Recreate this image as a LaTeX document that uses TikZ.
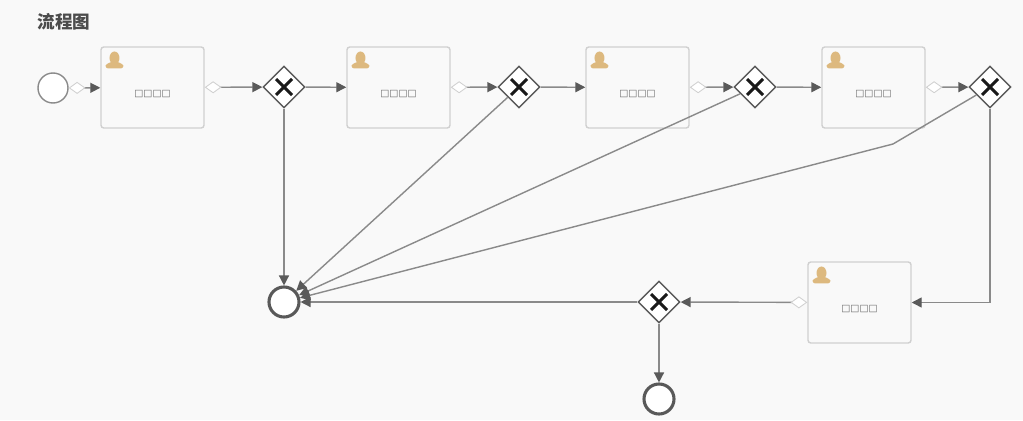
\documentclass[tikz,border=0pt]{standalone}
\usepackage{fontspec}
\newfontfamily\cjk{Noto Sans CJK SC}
\newfontfamily\boxfont{DejaVu Sans}
\usepackage{xcolor}
\usetikzlibrary{arrows.meta, shapes.geometric}

\definecolor{pagebg}{HTML}{F9F9F9}
\definecolor{flowline}{HTML}{8A8A8A}
\definecolor{flowtip}{HTML}{5A5A5A}
\definecolor{taskline}{HTML}{D0D0D0}
\definecolor{usertan}{HTML}{DDB97F}
\newcommand{\tasktext}{\smash{\raisebox{-6.5pt}{□□□□}}}

\begin{document}
\begin{tikzpicture}[
  x=0.025cm, y=-0.025cm,
  task/.style={draw=taskline, line width=1pt, fill=pagebg, rounded corners=2pt, minimum width=2.575cm, minimum height=2.025cm, inner sep=0pt, font=\boxfont\fontsize{6.8}{8}\selectfont, text=black!60,
    path picture={
      \fill[usertan] ([shift={(13.5,11)}]path picture bounding box.north west) ellipse [x radius=5, y radius=6.5];
      \fill[usertan] ([shift={(4.5,21.5)}]path picture bounding box.north west) .. controls +(0,-4) and +(-4,2) .. ++(6.5,-7) -- ++(5,0) .. controls +(4,2) and +(0,-4) .. ++(6.5,7) -- cycle;
    }},
  gateway/.style={draw=black!65, line width=1pt, fill=white, shape=diamond, aspect=1, inner sep=0pt, minimum width=1.05cm, minimum height=1.05cm,
    path picture={
      \draw[black!90, line width=2.2pt] ([shift={(-8,-8)}]path picture bounding box.center) -- ([shift={(8,8)}]path picture bounding box.center);
      \draw[black!90, line width=2.2pt] ([shift={(-8,8)}]path picture bounding box.center) -- ([shift={(8,-8)}]path picture bounding box.center);
    }},
  startev/.style={circle, draw=flowline, line width=1pt, fill=white, inner sep=0pt, minimum size=0.75cm},
  endev/.style={circle, draw=black!65, line width=2.2pt, fill=white, inner sep=0pt, minimum size=0.75cm},
  flow/.style={-{Triangle[length=2.5mm, width=2.5mm, color=flowtip]}, line width=1pt, color=flowline},
  mainflow/.style={{Diamond[length=4.2mm, width=3mm, fill=white, color=taskline, line width=0.6pt]}-{Triangle[length=2.5mm, width=2.5mm, color=flowtip]}, line width=1pt, color=flowline},
]
\useasboundingbox (0,0) rectangle (1023,420);
\fill[pagebg] (0,0) rectangle (1023,420);

% title
\node[font=\cjk\bfseries\fontsize{12.5}{15}\selectfont, text=black!70] (title) at (64,22) {流程图};

% nodes
\node[startev] (start) at (53,88) {};
\node[task] (task1) at (152.5,87.5) {\tasktext};
\node[gateway] (gw1) at (284,87) {};
\node[task] (task2) at (398.5,87.5) {\tasktext};
\node[gateway] (gw2) at (519,87) {};
\node[task] (task3) at (637.5,87.5) {\tasktext};
\node[gateway] (gw3) at (755,87) {};
\node[task] (task4) at (873.5,87.5) {\tasktext};
\node[gateway] (gw4) at (990,87) {};
\node[task] (task5) at (859.5,302.5) {\tasktext};
\node[gateway] (gw5) at (659,302) {};
\node[endev] (end1) at (284,302) {};
\node[endev] (end2) at (659,399) {};
\coordinate (bend) at (893,144);

% top row
\draw[mainflow] (start) -- (task1);
\draw[mainflow] (task1) -- (gw1);
\draw[flow] (gw1) -- (task2);
\draw[mainflow] (task2) -- (gw2);
\draw[flow] (gw2) -- (task3);
\draw[mainflow] (task3) -- (gw3);
\draw[flow] (gw3) -- (task4);
\draw[mainflow] (task4) -- (gw4);

% reject lines
\draw[flow] (gw1) -- (end1);
\draw[flow] (gw2) -- (end1);
\draw[flow] (gw3) -- (end1);
\draw[flow] (gw4) -- (bend) -- (end1);

% bottom row
\draw[flow] (gw4) |- (task5);
\draw[mainflow] (task5) -- (gw5);
\draw[flow] (gw5) -- (end1);
\draw[flow] (gw5) -- (end2);

\end{tikzpicture}
\end{document}
